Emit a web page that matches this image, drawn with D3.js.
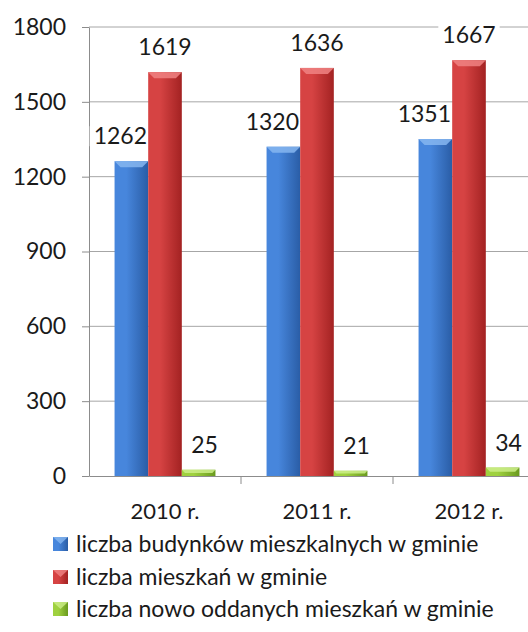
<!DOCTYPE html>
<html>
<head>
<meta charset="utf-8">
<script src="https://cdn.jsdelivr.net/npm/d3@7"></script>
<style>
  body { margin: 0; background: #fff; }
  svg { display: block; }
  text { font-family: Lato, "Open Sans", sans-serif; fill: #1a1a1a; }
</style>
</head>
<body>
<div id="chart"></div>
<script>
// Data
const years = ["2010 r.", "2011 r.", "2012 r."];
const seriesNames = [
  "liczba budynków mieszkalnych w gminie",
  "liczba mieszkań w gminie",
  "liczba nowo oddanych mieszkań w gminie"
];
const buildings = [1262, 1320, 1351];
const flats = [1619, 1636, 1667];
const newFlats = [25, 21, 34];
const yTicks = [0, 300, 600, 900, 1200, 1500, 1800];

const seriesValues = [buildings, flats, newFlats];
const colors = [
  { dark: "#2a5da6", mid: "#4786dc", light: "#86b6f0" },
  { dark: "#a32222", mid: "#d64343", light: "#f08383" },
  { dark: "#6a9a1e", mid: "#9fd13f", light: "#cdee8a" }
];
// label nudges per series (the labels are not quite centred in the original)
const labelShift = [-11, 0, 6];

const W = 528, H = 632;
const margin = { top: 27, left: 89, bottom: 156 };
const plotBottom = H - margin.bottom; // 476

const svg = d3.select("#chart").append("svg")
  .attr("width", W).attr("height", H);

const defs = svg.append("defs");
colors.forEach((c, i) => {
  const g = defs.append("linearGradient")
    .attr("id", "grad" + i)
    .attr("x1", "0%").attr("x2", "100%").attr("y1", "0%").attr("y2", "0%");
  g.append("stop").attr("offset", "0%").attr("stop-color", c.mid);
  g.append("stop").attr("offset", "35%").attr("stop-color", c.mid);
  g.append("stop").attr("offset", "100%").attr("stop-color", c.dark);
});

// Scales
const y = d3.scaleLinear().domain([0, 1800]).range([plotBottom, margin.top]);
const x = d3.scaleBand().domain(years).range([margin.left, margin.left + 3 * 152]);
const x1 = d3.scaleBand().domain(d3.range(3)).range([0, x.bandwidth()])
  .paddingInner(0).paddingOuter(0.76);

// Gridlines
svg.append("g")
  .selectAll("line")
  .data(yTicks.filter(d => d > 0))
  .join("line")
  .attr("x1", margin.left).attr("x2", W)
  .attr("y1", d => y(d)).attr("y2", d => y(d))
  .attr("stroke", "#a6a6a6").attr("stroke-width", 1);

// Y axis
const yAxis = svg.append("g")
  .attr("transform", `translate(${margin.left},0)`)
  .call(d3.axisLeft(y).tickValues(yTicks).tickFormat(d3.format("d"))
    .tickSize(7).tickPadding(16).tickSizeOuter(0));
yAxis.select(".domain").attr("stroke", "#8c8c8c");
yAxis.selectAll(".tick line").attr("stroke", "#8c8c8c");
yAxis.selectAll(".tick text")
  .style("font-size", "23px").style("font-family", "Lato, sans-serif").attr("fill", "#1a1a1a");

// X axis
const xAxis = svg.append("g")
  .attr("transform", `translate(0,${plotBottom})`)
  .call(d3.axisBottom(x).tickSize(0).tickPadding(27).tickSizeOuter(0));
xAxis.select(".domain").attr("stroke", "#8c8c8c");
xAxis.selectAll(".tick text")
  .style("font-size", "22px").style("font-family", "Lato, sans-serif").attr("fill", "#1a1a1a");
// category separators
svg.append("g")
  .selectAll("line")
  .data(years)
  .join("line")
  .attr("x1", d => x(d) + x.bandwidth()).attr("x2", d => x(d) + x.bandwidth())
  .attr("y1", plotBottom).attr("y2", plotBottom + 8)
  .attr("stroke", "#8c8c8c");

const rows = [];
years.forEach((yr, i) => {
  seriesValues.forEach((vals, s) => rows.push({ year: yr, s: s, v: vals[i] }));
});

// layers: label backgrounds, then bars, then label text
const bgLayer = svg.append("g");
const barLayer = svg.append("g");
const textLayer = svg.append("g");

// Bars
const bars = barLayer.selectAll("g")
  .data(rows)
  .join("g")
  .attr("transform", d => `translate(${x(d.year) + x1(d.s)},0)`);

bars.append("rect")
  .attr("x", 0)
  .attr("y", d => y(d.v))
  .attr("width", x1.bandwidth())
  .attr("height", d => plotBottom - y(d.v))
  .attr("fill", d => `url(#grad${d.s})`);

// top bevel
bars.append("path")
  .attr("d", d => {
    const w = x1.bandwidth(), t = y(d.v), b = Math.min(6, (plotBottom - t) / 2);
    return `M0,${t} L${w},${t} L${w - b},${t + b} L${b},${t + b} Z`;
  })
  .attr("fill", d => colors[d.s].light)
  .attr("opacity", 0.85);

// Value labels
const labels = textLayer.selectAll("text")
  .data(rows)
  .join("text")
  .attr("x", d => x(d.year) + x1(d.s) + x1.bandwidth() / 2 + labelShift[d.s])
  .attr("y", d => y(d.v) - 17)
  .attr("text-anchor", "middle")
  .style("font-size", "23px")
  .text(d => d.v);

// white boxes behind the labels so gridlines break around them
bgLayer.selectAll("rect")
  .data(labels.nodes())
  .join("rect")
  .each(function (node) {
    const bb = node.getBBox();
    d3.select(this)
      .attr("x", bb.x - 4).attr("y", bb.y + 5)
      .attr("width", bb.width + 8).attr("height", bb.height - 8)
      .attr("fill", "#fff");
  });

// Legend
const legend = svg.append("g").attr("transform", "translate(53,0)");
const legendY = [544, 577, 609];
const items = legend.selectAll("g")
  .data(seriesNames)
  .join("g")
  .attr("transform", (d, i) => `translate(0,${legendY[i]})`);

items.append("rect")
  .attr("x", 0).attr("y", -7)
  .attr("width", 15).attr("height", 14)
  .attr("fill", (d, i) => `url(#grad${i})`);
items.append("path")
  .attr("d", "M0,-7 L15,-7 L7.5,0 Z")
  .attr("fill", (d, i) => colors[i].light)
  .attr("opacity", 0.8);

items.append("text")
  .attr("x", 23)
  .attr("dy", "0.35em")
  .style("font-size", "23px")
  .text(d => d);
</script>
</body>
</html>
